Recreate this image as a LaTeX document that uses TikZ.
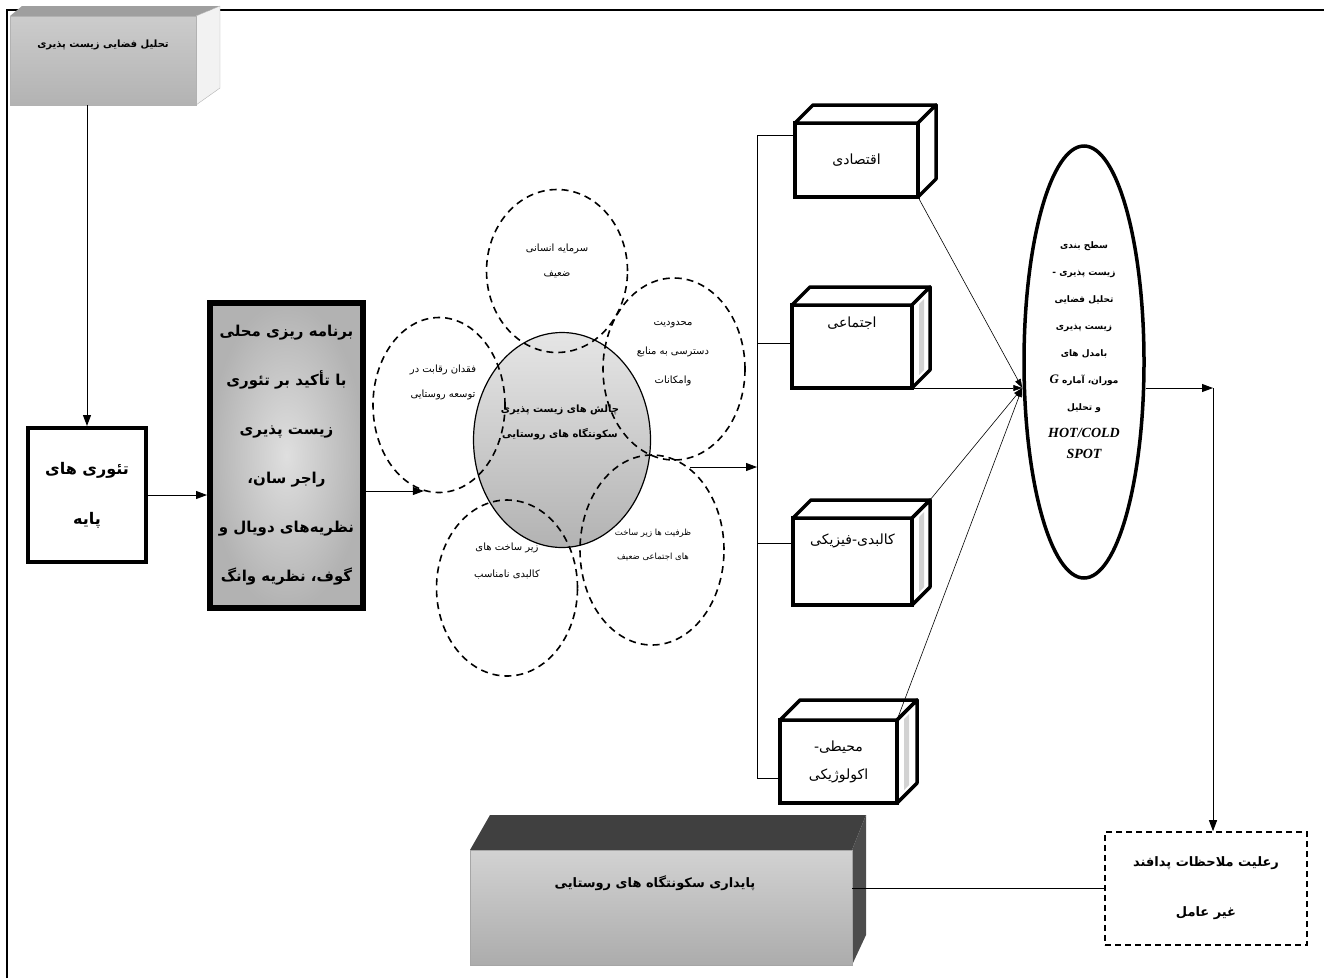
\documentclass[tikz,border=0pt]{standalone}
\usepackage{fontspec}
\newfontfamily\farsi[Script=Arabic]{DejaVu Sans}
\newfontfamily\latinbi{Liberation Serif}
\usetikzlibrary{shapes.geometric,arrows.meta}
\TeXXeTstate=1
\newcommand{\fa}[1]{\beginR #1\endR}

\begin{document}
\begin{tikzpicture}[x=1pt, y=-1pt, font=\farsi,
    arr/.style={-{Triangle[length=11pt,width=8pt]}, line width=1pt},
    thin arr/.style={-{Triangle[length=9pt,width=6pt]}, line width=0.6pt},
    cubeface/.style={draw, line width=3.5pt, fill=white, outer sep=0pt},
    cubeside/.style={draw, line width=3.5pt, fill=white, line join=round},
    bubble/.style={draw, ellipse, line width=1.6pt, dash pattern=on 7pt off 5pt, inner sep=0pt},
    bubtext/.style={align=center, font=\farsi\fontsize{10}{25}\selectfont},
  ]
  \useasboundingbox (0,0) rectangle (1324,978);
  \draw[line width=1.5pt] (7,978) -- (7,10) -- (1324,10);

  % spatial analysis box (top left)
  \fill[gray!75] (10,16) -- (22,6) -- (220,6) -- (196,16) -- cycle;
  \draw[gray!60, fill=gray!10] (196,16) -- (220,6) -- (220,88) -- (196,105) -- cycle;
  \node[draw=gray!60, top color=gray!40, bottom color=gray!60, outer sep=0pt,
    minimum width=186pt, minimum height=89pt,
    label={[below=20pt, font=\farsi\bfseries\fontsize{10}{12}\selectfont]north:{\beginR تحلیل فضایی زیست پذیری\endR}}] (spatial) at (103,60.5) {};

  \node[draw, line width=4pt, minimum width=118pt, minimum height=134pt, align=center,
    font=\farsi\bfseries\fontsize{16}{50}\selectfont] (base) at (87,495) {\fa{تئوری های}\\\fa{پایه}};
  \node[draw, line width=6pt, minimum width=153pt, minimum height=305pt, inner color=gray!25, outer color=gray!60,
    align=center, font=\farsi\bfseries\fontsize{15}{49}\selectfont] (plan) at (286.5,455.5)
    {\fa{برنامه ریزی محلی}\\\fa{با تأکید بر تئوری}\\\fa{زیست پذیری}\\\fa{راجر سان،}\\\fa{نظریه‌های دویال و}\\\fa{گوف، نظریه وانگ}};

  \draw[arr] (spatial.south -| base.north) -- (base.north);
  \draw[arr] (base.east) -- (base.east -| plan.west);

  % challenges
  \node[ellipse, draw, line width=1.2pt, minimum width=177pt, minimum height=215pt, inner sep=0pt,
    top color=gray!20, middle color=white, bottom color=gray!60] (core) at (562,440) {};
  \node[bubble, minimum width=141pt, minimum height=163pt] (hr) at (557,271) {};
  \node[bubble, minimum width=132pt, minimum height=175pt] (comp) at (439,405) {};
  \node[bubble, minimum width=142pt, minimum height=182pt] (acc) at (674,369) {};
  \node[bubble, minimum width=141pt, minimum height=176pt] (infra) at (507,588) {};
  \node[bubble, minimum width=144pt, minimum height=190pt] (social) at (652,550) {};

  \node[bubtext] (hrt) at (557,261) {\fa{سرمایه انسانی}\\\fa{ضعیف}};
  \node[bubtext] (compt) at (443,382) {\fa{فقدان رقابت در}\\\fa{توسعه روستایی}};
  \node[bubtext, font=\farsi\fontsize{10}{29}\selectfont] (acct) at (673,354) {\fa{محدودیت}\\\fa{دسترسی به منابع}\\\fa{وامکانات}};
  \node[bubtext, font=\farsi\bfseries\fontsize{10}{25}\selectfont] (coret) at (560,422) {\fa{چالش های زیست پذیری}\\\fa{سکونتگاه های روستایی}};
  \node[bubtext, font=\farsi\fontsize{10}{27}\selectfont] (infrat) at (507,561) {\fa{زیر ساخت های}\\\fa{کالبدی نامناسب}};
  \node[bubtext, font=\farsi\fontsize{8.5}{24}\selectfont] (socialt) at (653,545) {\fa{ظرفیت ها زیر ساخت}\\\fa{های اجتماعی ضعیف}};

  \draw[arr] (plan.east |- comp.260) -- (comp.260);

  % dimensions
  \coordinate (busin) at (757,467);
  \coordinate (b1) at (757,135);
  \coordinate (b2) at (757,343);
  \coordinate (b3) at (757,543);
  \coordinate (b4) at (757,778);
  \draw[arr] (social.65 |- busin) -- (busin);
  \draw[line width=0.8pt] (b1) -- (b4);

  \node[cubeface, minimum width=123pt, minimum height=74pt, font=\farsi\fontsize{14}{16}\selectfont] (econ) at (856.5,160) {\fa{اقتصادی}};
  \node[cubeface, minimum width=120pt, minimum height=83pt,
    label={[below=8pt, font=\farsi\fontsize{14}{16}\selectfont]north:{\fa{اجتماعی}}}] (soc) at (852,346.5) {};
  \node[cubeface, minimum width=119pt, minimum height=87pt,
    label={[below=12pt, font=\farsi\fontsize{14}{16}\selectfont]north:{\fa{کالبدی-فیزیکی}}}] (phys) at (852.5,561.5) {};
  \node[cubeface, minimum width=117pt, minimum height=83pt, align=center,
    font=\farsi\fontsize{14}{28}\selectfont] (env) at (838.5,761.5) {\fa{محیطی-}\\\fa{اکولوژیکی}};

  \foreach \b/\d in {econ/18, soc/18, phys/18, env/20} {
    \draw[cubeside] (\b.north west) -- ++(\d,-\d) -- ([shift={(\d,-\d)}]\b.north east) -- (\b.north east) -- cycle;
    \draw[cubeside] (\b.north east) -- ([shift={(\d,-\d)}]\b.north east) -- ([shift={(\d,-\d)}]\b.south east) -- (\b.south east) -- cycle;
  }
  \foreach \b in {soc, phys, env}
    \fill[gray!35] ([shift={(7,-1)}]\b.north east) -- ([shift={(12,-6)}]\b.north east)
      -- ([shift={(12,-18)}]\b.south east) -- ([shift={(7,-13)}]\b.south east) -- cycle;

  \draw[line width=0.8pt] (b1) -- (b1 -| econ.west);
  \draw[line width=0.8pt] (b2) -- (b2 -| soc.west);
  \draw[line width=0.8pt] (b3) -- (b3 -| phys.west);
  \draw[line width=0.8pt] (b4) -- (b4 -| env.west);

  % levelling
  \node[ellipse, draw, line width=3.5pt, minimum width=120pt, minimum height=432pt, inner sep=0pt] (level) at (1084,362) {};
  \node[align=center, font=\farsi\bfseries\fontsize{9}{27}\selectfont] (levelt) at (1084,350)
    {\fa{سطح بندی}\\\fa{زیست پذیری -}\\\fa{تحلیل فضایی}\\\fa{زیست پذیری}\\\fa{بامدل های}\\
     \fa{موران، آماره {\latinbi\bfseries\itshape\fontsize{13}{15}\selectfont G}}\\\fa{و تحلیل}\\
     {\latinbi\bfseries\itshape\fontsize{14}{22}\selectfont HOT/COLD}\\[-6pt]{\latinbi\bfseries\itshape\fontsize{14}{22}\selectfont SPOT}};
  \coordinate (hub) at ([yshift=-26pt]level.west);
  \draw[thin arr] (econ.south east) -- (hub);
  \draw[thin arr] (soc.south east) -- (hub);
  \draw[thin arr] ([shift={(18,-18)}]phys.north east) -- (hub);
  \draw[thin arr] (env.north east) -- (hub);

  % passive defence and sustainability
  \node[draw, line width=1.6pt, dash pattern=on 6pt off 4pt, minimum width=202pt, minimum height=113pt, align=center,
    font=\farsi\bfseries\fontsize{13}{50}\selectfont] (pd) at (1206,888.5) {\fa{رعلیت ملاحظات پدافند}\\\fa{غیر عامل}};
  \coordinate (turn) at (1213,388);
  \draw[arr] (level.east |- hub) -- (turn);
  \draw[arr] (turn) -- (turn |- pd.north);

  \fill[black!75] (470,850) -- (490,815) -- (866,815) -- (852,850) -- cycle;
  \fill[black!70] (852,850) -- (866,815) -- (866,935) -- (852,965) -- cycle;
  \node[draw=gray!70, minimum width=382pt, minimum height=115pt, outer sep=0pt,
    top color=gray!35, middle color=gray!8, bottom color=gray!65,
    label={[below=22pt, font=\farsi\bfseries\fontsize{13}{15}\selectfont, xshift=-6pt]north:{\beginR پایداری سکونتگاه های روستایی\endR}}] (sust) at (661,907.5) {};
  \draw[line width=1.2pt] (pd.west) -- (pd.west -| sust.east);
\end{tikzpicture}
\end{document}
